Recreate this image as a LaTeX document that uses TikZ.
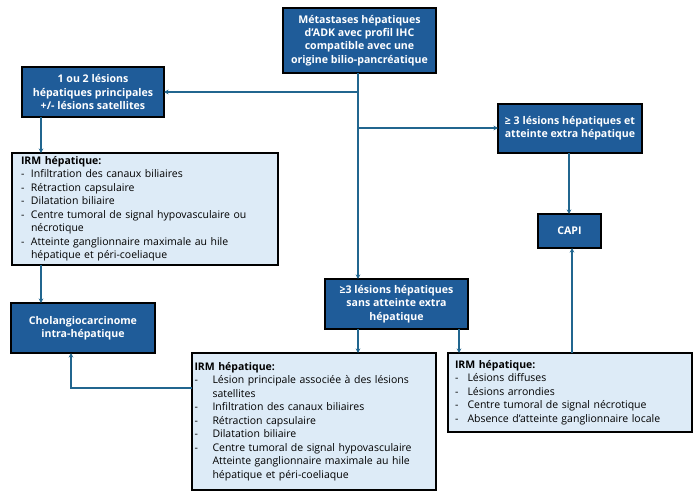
\documentclass[tikz,border=0pt]{standalone}
\usepackage{fontspec}
\setmainfont{Open Sans}
\usepackage{array}
\usetikzlibrary{arrows.meta,calc}
\definecolor{boxblue}{HTML}{1F5C99}
\definecolor{lightbox}{HTML}{DDEBF7}
\definecolor{linkblue}{HTML}{21668F}
\begin{document}
\begin{tikzpicture}[x=1pt,y=-1pt,
  darkbox/.style={draw=black,line width=1.3pt,fill=boxblue,text=white,font=\bfseries\fontsize{10.6}{13.4}\selectfont,align=center,inner sep=0pt,outer sep=0pt,anchor=north west},
  lightbox/.style={draw=black,line width=1.3pt,fill=lightbox,text=black,font=\fontsize{10.5}{13.5}\selectfont,align=left,inner ysep=0pt,outer sep=0pt,anchor=north west},
  arr/.style={draw=linkblue,line width=1.1pt,-{Stealth[length=4.5pt,width=4.5pt]}},
  link/.style={draw=linkblue,line width=1.1pt}]
\useasboundingbox[fill=white] (0,0) rectangle (700,498);

\node[darkbox,minimum width=153pt,minimum height=65pt] (top) at (283,8)
  {Métastases hépatiques\\d’ADK avec profil IHC\\compatible avec une\\origine bilio-pancréatique};
\node[darkbox,minimum width=142pt,minimum height=50pt] (one) at (22,67)
  {1 ou 2 lésions\\hépatiques principales\\+/- lésions satellites};
\node[darkbox,minimum width=144pt,minimum height=49pt] (ext) at (498,104)
  {≥ 3 lésions hépatiques et\\atteinte extra hépatique};
\node[darkbox,minimum width=63pt,minimum height=34pt] (capi) at (538,214) {CAPI};
\node[darkbox,minimum width=144pt,minimum height=50pt] (chol) at (11,303)
  {Cholangiocarcinome\\intra-hépatique};
\node[darkbox,minimum width=143pt,minimum height=50pt] (sans) at (325,279)
  {≥3 lésions hépatiques\\sans atteinte extra\\hépatique};

\node[lightbox,inner xsep=9pt,text width=248pt,minimum height=112pt] (irm1) at (12,153)
  {\begin{tabular}{@{}p{10pt}@{}l@{}}
   \multicolumn{2}{@{}l@{}}{\textbf{IRM hépatique:}}\\
   - & Infiltration des canaux biliaires\\
   - & Rétraction capsulaire\\
   - & Dilatation biliaire\\
   - & Centre tumoral de signal hypovasculaire ou\\
     & nécrotique\\
   - & Atteinte ganglionnaire maximale au hile\\
     & hépatique et péri-coeliaque
  \end{tabular}};
\node[lightbox,inner xsep=2.5pt,text width=239pt,minimum height=137pt] (irm2) at (192,353)
  {\begin{tabular}{@{}p{18pt}@{}l@{}}
   \multicolumn{2}{@{}l@{}}{\textbf{IRM hépatique:}}\\
   - & Lésion principale associée à des lésions\\
     & satellites\\
   - & Infiltration des canaux biliaires\\
   - & Rétraction capsulaire\\
   - & Dilatation biliaire\\
   - & Centre tumoral de signal hypovasculaire\\
     & Atteinte ganglionnaire maximale au hile\\
     & hépatique et péri-coeliaque
  \end{tabular}};
\node[lightbox,inner xsep=7pt,text width=230pt,minimum height=79pt] (irm3) at (448,353)
  {\begin{tabular}{@{}p{12.5pt}@{}l@{}}
   \multicolumn{2}{@{}l@{}}{\textbf{IRM hépatique:}}\\
   - & Lésions diffuses\\
   - & Lésions arrondies\\
   - & Centre tumoral de signal nécrotique\\
   - & Absence d’atteinte ganglionnaire locale
  \end{tabular}};

\coordinate (tx) at (358,0);
\coordinate (j1) at (358,92);
\coordinate (j2) at (358,128);
\coordinate (c1) at (41,0);
\coordinate (c2) at (71,388);
\coordinate (c3) at (569,0);
\coordinate (c4) at (572,0);
\coordinate (c5) at (459,0);

\draw[arr] (top.south -| tx) -- (sans.north -| tx);
\draw[arr] (j1) -- (j1 -| one.east);
\draw[arr] (j2) -- (j2 -| ext.west);
\draw[arr] (one.south -| c1) -- (irm1.north -| c1);
\draw[arr] (irm1.south -| c1) -- (chol.north -| c1);
\draw[arr] (c2 -| irm2.west) -- (c2) -- (c2 |- chol.south);
\draw[arr] (ext.south -| c3) -- (capi.north -| c3);
\draw[arr] (irm3.north -| c4) -- (capi.south -| c4);
\draw[arr] (sans.south -| tx) -- (irm2.north -| tx);
\draw[arr] (sans.south -| c5) -- (irm3.north -| c5);
\end{tikzpicture}
\end{document}
